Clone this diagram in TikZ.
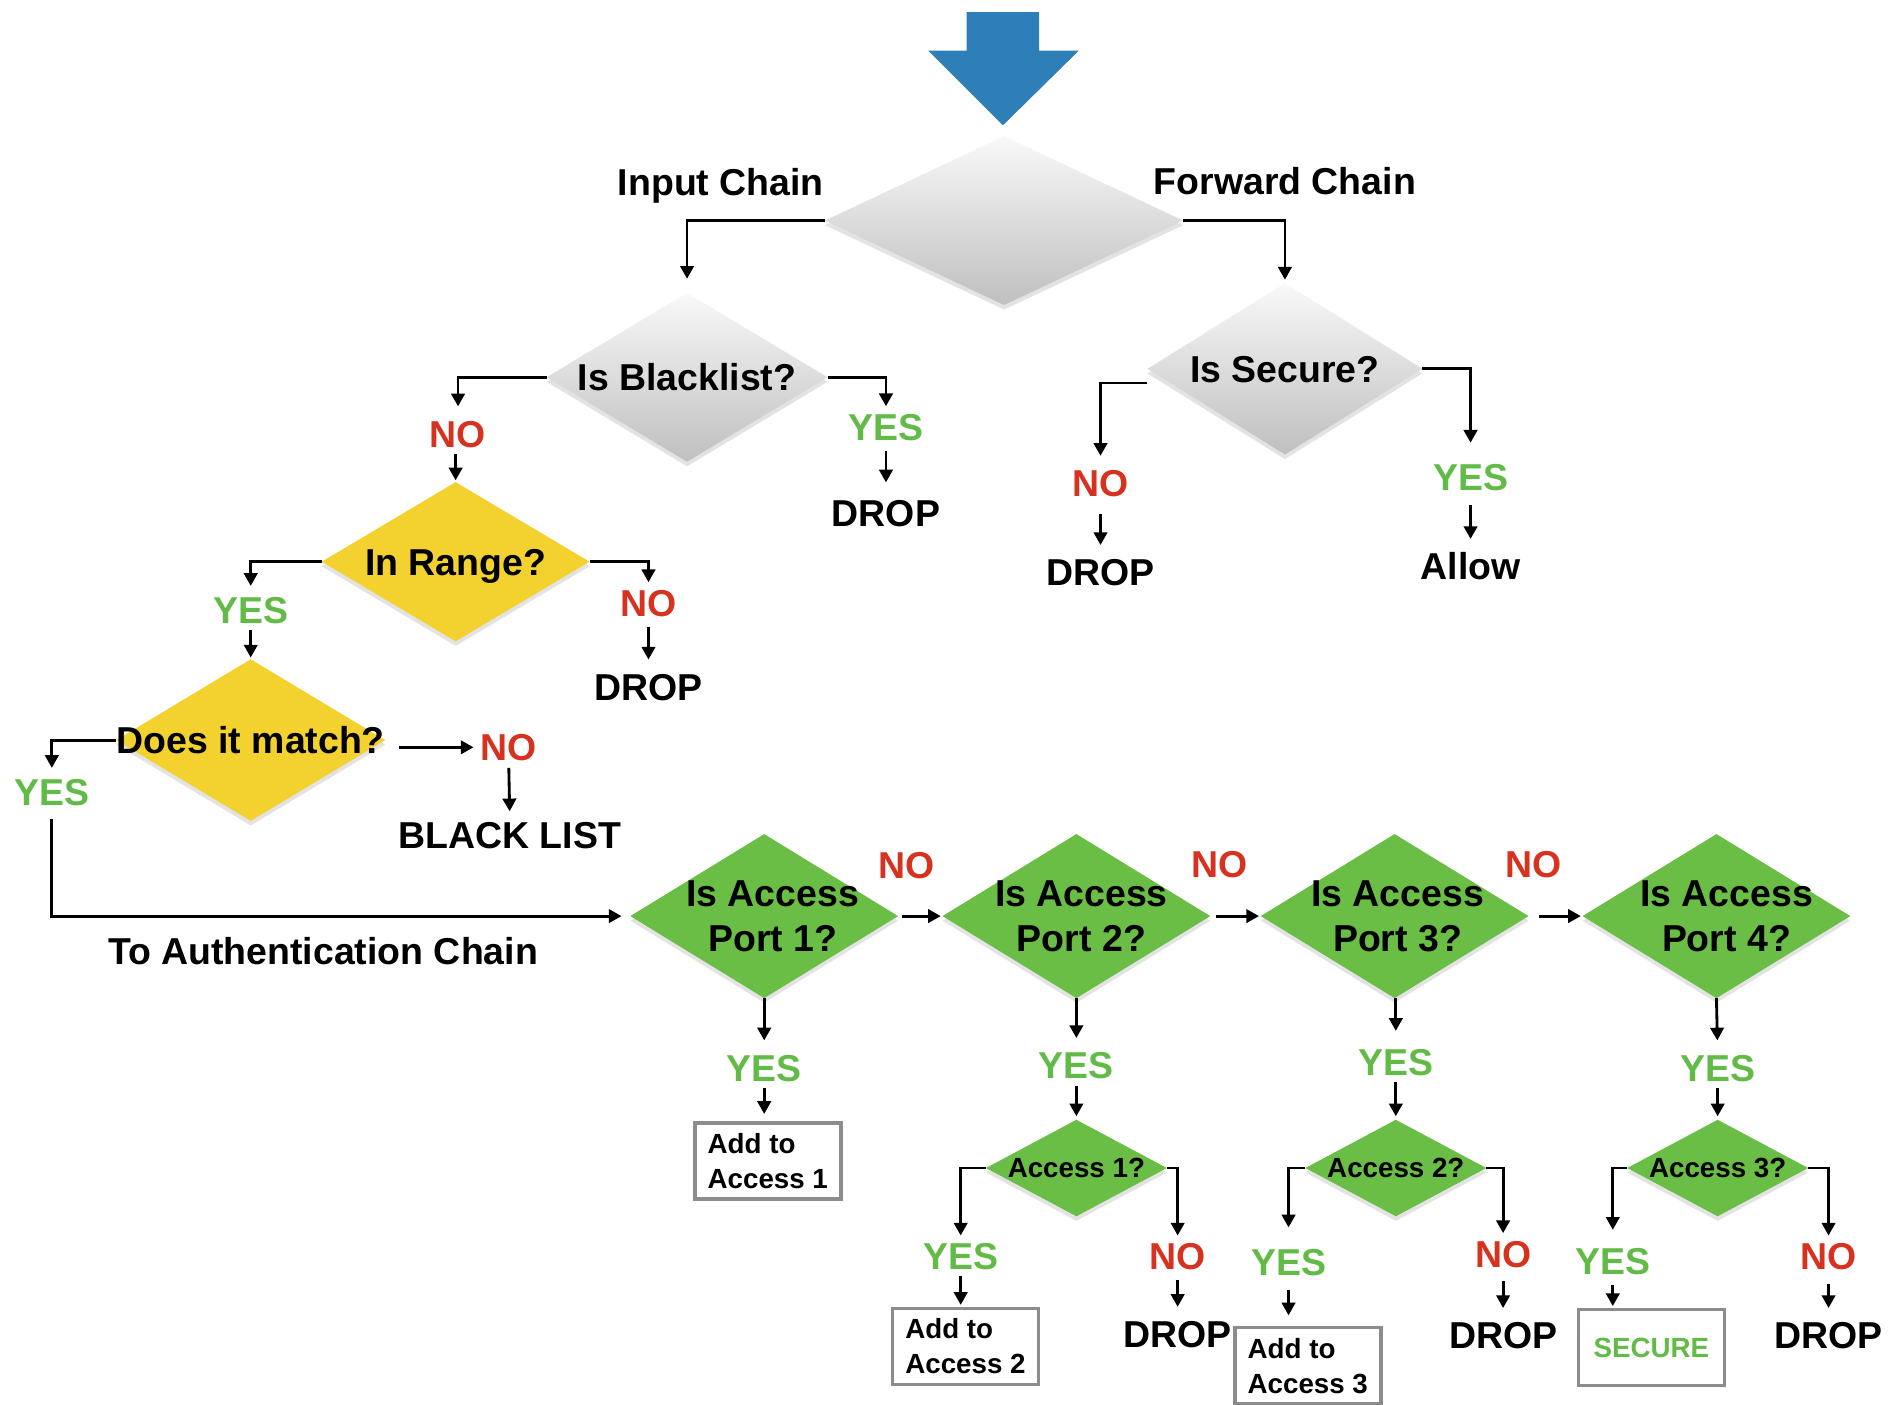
\documentclass[tikz,border=0pt]{standalone}
\usepackage{fontspec}
\setmainfont{Liberation Sans}
\usetikzlibrary{shapes.geometric,arrows.meta,shadows}
\definecolor{bluearrow}{HTML}{2E7FB8}
\definecolor{ydia}{HTML}{F3D22F}
\definecolor{gdia}{HTML}{6ABD45}
\definecolor{yesgreen}{HTML}{62BB47}
\definecolor{nored}{HTML}{D6321F}
\definecolor{boxgray}{HTML}{8C8C8C}
\begin{document}
\begin{tikzpicture}[x=0.012cm,y=-0.012cm,
  big/.style={font=\fontsize{10.6}{12.7}\selectfont\bfseries},
  lbl/.style={big, inner sep=0pt, outer sep=0pt, text height=7.6pt, text depth=0pt},
  ml/.style={big, inner sep=0pt, align=center},
  sml/.style={font=\fontsize{7.85}{9.9}\selectfont\bfseries, inner sep=0pt, text height=5.6pt, text depth=0pt},
  yes/.style={lbl, text=yesgreen},
  no/.style={lbl, text=nored},
  dia/.style={diamond, inner sep=0pt, outer sep=0pt, draw=none,
    drop shadow={opacity=0.22, shadow xshift=0pt, shadow yshift=-1.3pt}},
  graydia/.style={dia, top color=gray!5, bottom color=gray!50},
  yellowdia/.style={dia, fill=ydia},
  greendia/.style={dia, fill=gdia},
  boxed/.style={draw=boxgray, line width=1pt, fill=white, minimum width=1.452cm,
    minimum height=0.756cm, align=left, inner sep=0pt,
    font=\fontsize{7.85}{9.9}\selectfont\bfseries},
  arr/.style={line width=0.8pt, -{Triangle[length=3.6pt,width=3.8pt]}, shorten >=3pt},
  sarr/.style={arr, shorten <=2pt},
]
\useasboundingbox (0,0) rectangle (1568,1165);

% entry arrow
\fill[bluearrow] (802,10) -- (862,10) -- (862,42) -- (895,42) -- (832,104) -- (770,42) -- (802,42) -- cycle;

% main decision
\node[graydia, minimum width=3.564cm, minimum height=1.68cm] (G) at (833,183) {};
\node[lbl] (inlbl) at (598,151) {Input Chain};
\node[lbl] (fwlbl) at (1066,150) {Forward Chain};

% input chain
\node[graydia, minimum width=2.796cm, minimum height=1.68cm,
  label={[lbl]center:Is Blacklist?}] (BL) at (570,313) {};
\node[no] (noBL) at (380,360) {NO};
\node[yes] (yesBL) at (735,354) {YES};
\node[lbl] (dropBL) at (735,426) {DROP};

\node[yellowdia, minimum width=2.664cm, minimum height=1.584cm,
  label={[lbl]center:In Range?}] (IR) at (378,466) {};
\node[yes] (yesIR) at (208,506) {YES};
\node[no] (noIR) at (538,500) {NO};
\node[lbl] (dropIR) at (538,570) {DROP};

\node[yellowdia, minimum width=2.676cm, minimum height=1.608cm,
  label={[lbl]center:Does it match?}] (DM) at (208,614) {};
\node[yes] (yesDM) at (43,657) {YES};
\node[no] (noDM) at (422,620) {NO};
\node[lbl] (blist) at (423,693) {BLACK LIST};
\node[lbl] (auth) at (268,789) {To Authentication Chain};

% forward chain
\node[graydia, minimum width=2.736cm, minimum height=1.704cm,
  label={[lbl]center:Is Secure?}] (IS) at (1066,306) {};
\node[no] (noIS) at (913,401) {NO};
\node[lbl] (dropIS) at (913,475) {DROP};
\node[yes] (yesIS) at (1220,396) {YES};
\node[lbl] (allow) at (1220,470) {Allow};

% access ports
\node[greendia, minimum width=2.664cm, minimum height=1.632cm,
  label={[ml, xshift=0.084cm]center:Is Access\\Port 1?}] (P1) at (634,760) {};
\node[greendia, minimum width=2.664cm, minimum height=1.632cm,
  label={[ml, xshift=0.05cm]center:Is Access\\Port 2?}] (P2) at (893,760) {};
\node[greendia, minimum width=2.664cm, minimum height=1.632cm,
  label={[ml, xshift=0.03cm]center:Is Access\\Port 3?}] (P3) at (1157,760) {};
\node[greendia, minimum width=2.664cm, minimum height=1.632cm,
  label={[ml, xshift=0.1cm]center:Is Access\\Port 4?}] (P4) at (1424,760) {};
\node[no] (noP1) at (752,718) {NO};
\node[no] (noP2) at (1012,717) {NO};
\node[no] (noP3) at (1272,717) {NO};

\node[yes] (yesP1) at (634,886) {YES};
\node[boxed] (box1) at (637,963) {Add to\\Access 1};

\node[yes] (yesP2) at (893,884) {YES};
\node[greendia, minimum width=1.8cm, minimum height=0.96cm,
  label={[sml]center:Access 1?}] (A1) at (893,969) {};
\node[yes] (yesA1) at (797,1042) {YES};
\node[no] (noA1) at (977,1042) {NO};
\node[boxed] (box2) at (801,1117) {Add to\\Access 2};
\node[lbl] (dropA1) at (977,1107) {DROP};

\node[yes] (yesP3) at (1158,881) {YES};
\node[greendia, minimum width=1.8cm, minimum height=0.96cm,
  label={[sml]center:Access 2?}] (A2) at (1158,969) {};
\node[yes] (yesA2) at (1069,1047) {YES};
\node[no] (noA2) at (1247,1040) {NO};
\node[boxed] (box3) at (1085,1133) {Add to\\Access 3};
\node[lbl] (dropA2) at (1247,1108) {DROP};

\node[yes] (yesP4) at (1425,886) {YES};
\node[greendia, minimum width=1.8cm, minimum height=0.96cm,
  label={[sml]center:Access 3?}] (A3) at (1425,969) {};
\node[yes] (yesA3) at (1338,1046) {YES};
\node[no] (noA3) at (1517,1042) {NO};
\node[boxed, text=yesgreen, align=center] (secure) at (1370,1118) {SECURE};
\node[lbl] (dropA3) at (1517,1108) {DROP};

% connectors: top
\draw[arr, shorten >=4pt] (G.west) -| (BL.north);
\draw[arr, shorten >=1pt] (G.east) -| (IS.north);

% blacklist
\draw[arr, shorten >=4pt] (BL.west) -| (noBL.north);
\draw[arr, shorten >=2pt] (BL.east) -| (yesBL.north);
\draw[sarr, shorten <=3pt, shorten >=5pt] (yesBL.south) -- (dropBL.north);
\draw[sarr, shorten >=0.5pt] (noBL.south -| IR.north) -- (IR.north);

% in range
\draw[arr] (IR.west) -| (yesIR.north);
\draw[arr, shorten >=2pt] (IR.east) -| (noIR.north);
\draw[sarr, shorten <=3pt, shorten >=4pt] (noIR.south) -- (dropIR.north);
\draw[sarr, shorten >=0.5pt] (yesIR.south) -- (DM.north);

% does it match
\draw[arr, shorten >=3pt] (DM.west) -| (yesDM.north);
\draw[arr, shorten <=4pt, shorten >=2pt] (DM.east |- noDM.west) -- (noDM.west);
\draw[sarr, shorten >=3pt] (noDM.south) -- (blist.north);
\draw[arr, shorten <=4pt, shorten >=2.5pt] (yesDM.south) |- (P1.west);

% forward chain
\draw[arr, shorten >=4pt] ([yshift=-4pt]IS.west) -| (noIS.north);
\draw[arr, shorten >=6pt] (IS.east) -| (yesIS.north);
\draw[sarr, shorten <=5pt, shorten >=4pt] (noIS.south) -- (dropIS.north);
\draw[sarr, shorten <=4pt, shorten >=4pt] (yesIS.south) -- (allow.north);

% port chain
\draw[arr, shorten <=1pt, shorten >=0.5pt] (P1.east) -- (P2.west);
\draw[arr, shorten <=1.5pt, shorten >=0.5pt] (P2.east) -- (P3.west);
\draw[arr, shorten <=3pt, shorten >=0.5pt] (P3.east) -- (P4.west);

\draw[arr, shorten >=4pt] (P1.south) -- (yesP1.north);
\draw[sarr, shorten >=2pt] (yesP1.south) -- (yesP1.south |- box1.north);
\draw[arr, shorten >=4pt] (P2.south) -- (yesP2.north);
\draw[sarr, shorten >=1pt] (yesP2.south) -- (A1.north);
\draw[arr, shorten >=5pt] (P3.south -| yesP3.north) -- (yesP3.north);
\draw[sarr, shorten >=1pt] (yesP3.south) -- (A2.north);
\draw[arr, shorten >=4pt] (P4.south) -- (yesP4.north);
\draw[sarr, shorten >=1pt] (yesP4.south) -- (A3.north);

% access 1
\draw[arr, shorten >=2pt] (A1.west) -| (yesA1.north);
\draw[arr, shorten >=2pt] (A1.east) -| (noA1.north);
\draw[sarr, shorten >=0.5pt] (yesA1.south) -- (yesA1.south |- box2.north);
\draw[sarr, shorten <=3pt, shorten >=4pt] (noA1.south) -- (dropA1.north);
% access 2
\draw[arr, shorten >=6pt] (A2.west) -| (yesA2.north);
\draw[arr, shorten >=2pt] (A2.east) -| (noA2.north);
\draw[sarr, shorten <=4pt, shorten >=3pt] (yesA2.south) -- (yesA2.south |- box3.north);
\draw[sarr, shorten <=4pt, shorten >=4pt] (noA2.south) -- (dropA2.north);
% access 3
\draw[arr, shorten >=5pt] (A3.west) -| (yesA3.north);
\draw[arr, shorten >=2pt] (A3.east) -| (noA3.north);
\draw[sarr, shorten <=3pt, shorten >=0.5pt] (yesA3.south) -- (yesA3.south |- secure.north);
\draw[sarr, shorten <=4pt, shorten >=4pt] (noA3.south) -- (dropA3.north);
\end{tikzpicture}
\end{document}
